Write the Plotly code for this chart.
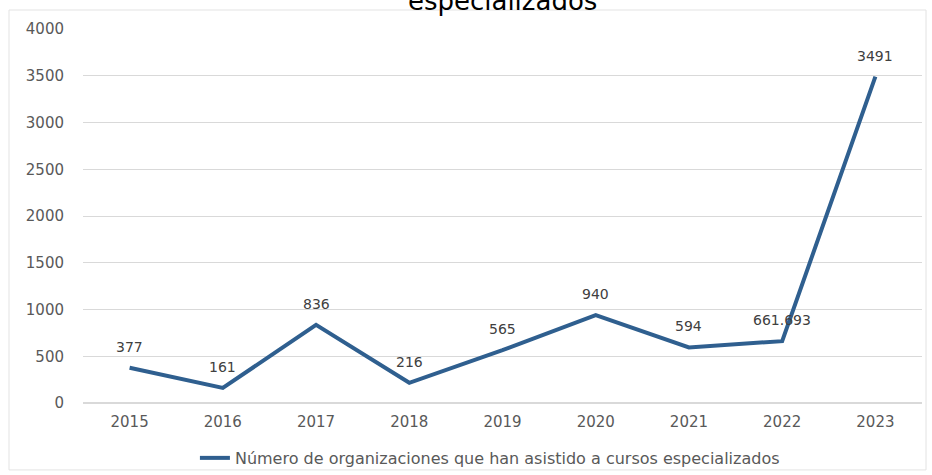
import plotly.graph_objects as go

years = [2015, 2016, 2017, 2018, 2019, 2020, 2021, 2022, 2023]
values = [377, 161, 836, 216, 565, 940, 594, 661.693, 3491]
labels = ["377", "161", "836", "216", "565", "940", "594", "661.693", "3491"]
tick_labels = ["2015", "2016", "2017", "2018", "2019", "2020", "2021", "2022", "2023"]
series_name = "Número de organizaciones que han asistido a cursos especializados"
title_text = "Número de organizaciones que han asistido a cursos<br>especializados"

fig = go.Figure()
fig.add_trace(go.Scatter(
    x=years, y=values, mode="lines", name=series_name,
    line=dict(color="#2F5F8F", width=4),
    cliponaxis=False,
))

label_annotations = [
    dict(x=x, y=y, text=t, xref="x", yref="y", showarrow=False, yshift=21,
         font=dict(family="DejaVu Sans", size=14, color="#404040"))
    for x, y, t in zip(years, values, labels)
]

fig.update_layout(
    width=932, height=475,
    paper_bgcolor="white", plot_bgcolor="white",
    margin=dict(l=83, r=10, t=29, b=72, autoexpand=False),
    showlegend=True,
    legend=dict(orientation="h", x=0.485, xanchor="center", y=-0.147, yanchor="middle",
                font=dict(family="DejaVu Sans", size=16, color="#595959"),
                bgcolor="rgba(0,0,0,0)"),
    xaxis=dict(range=[2014.5, 2023.5], tickvals=years, ticktext=tick_labels,
               showgrid=False, showline=False, zeroline=False, ticks="", automargin=False,
               ticklabelstandoff=8,
               tickfont=dict(family="DejaVu Sans", size=15, color="#595959")),
    yaxis=dict(range=[0, 4000], dtick=500, showgrid=True, gridcolor="#D9D9D9", gridwidth=1,
               zeroline=True, zerolinecolor="#D9D9D9", ticks="", ticklabelstandoff=18,
               automargin=False,
               tickfont=dict(family="DejaVu Sans", size=15, color="#595959")),
    shapes=[
        dict(type="rect", xref="paper", yref="paper", x0=-0.0882, x1=1.0048, y0=1.025, y1=1.0508,
             fillcolor="white", line=dict(width=0), layer="above"),
        dict(type="rect", xref="paper", yref="paper", x0=-0.0882, x1=1.0048, y0=-0.179, y1=1.0508,
             line=dict(color="#E3E3E3", width=1), layer="above"),
    ],
    annotations=[dict(text=title_text, xref="paper", yref="paper", x=0.5, y=1.029, yanchor="bottom",
                      showarrow=False,
                      font=dict(family="DejaVu Sans", size=26, color="black"))] + label_annotations,
)

fig.write_html("out.html", config={"displayModeBar": False},
               post_script="document.body.style.margin='0';")
